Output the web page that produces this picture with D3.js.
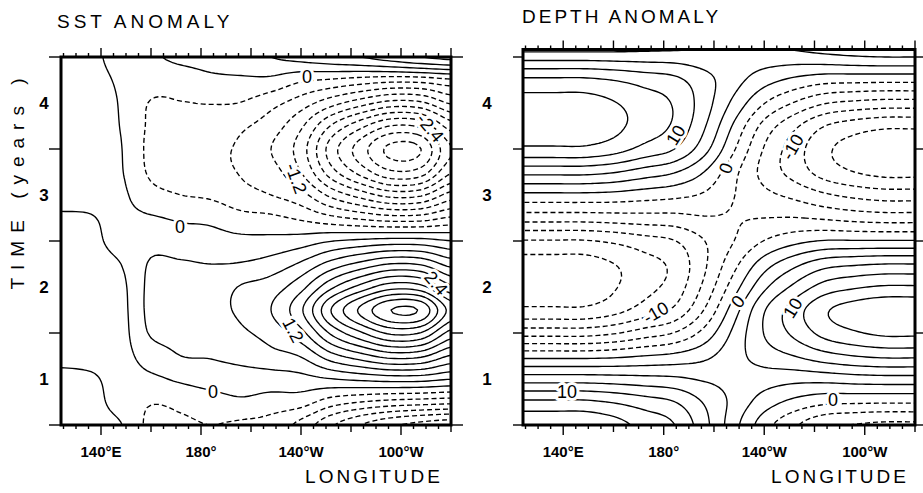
<!DOCTYPE html>
<html><head><meta charset="utf-8">
<script src="https://cdn.jsdelivr.net/npm/d3@7"></script>
<style>
body{margin:0;background:#fff;}
svg{display:block;}
text{font-family:"Liberation Sans",Arial,sans-serif;fill:#000;}
</style></head><body>
<svg id="chart" width="923" height="493"></svg>
<script>
// ---------------- DATA ----------------
const sstLon = [124,136,148,160,172,184,196,208,220,232,244,256,268,280];
const sstTime = [0.5,0.75,1,1.25,1.5,1.75,2,2.25,2.5,2.75,3,3.25,3.5,3.75,4,4.25,4.5];
const sstValues = [
 [0.2,0.12,0.01,-0.38,-0.35,-0.3,-0.35,-0.42,-0.7,-1.15,-1.5,-1.75,-1.9,-2.0],
 [0.15,0.1,-0.12,-0.28,-0.22,-0.12,-0.05,-0.12,-0.17,-0.45,-0.6,-0.7,-0.75,-0.8],
 [0.08,0.04,-0.1,-0.06,0.05,0.12,0.15,0.16,0.2,0.29,0.37,0.43,0.42,0.31],
 [-0.08,-0.09,-0.1,0.15,0.3,0.32,0.4,0.5,0.62,1.08,1.38,1.62,1.56,1.17],
 [-0.12,-0.12,-0.1,0.33,0.35,0.4,0.55,0.72,1.1,1.85,2.36,2.76,2.68,1.99],
 [-0.15,-0.13,-0.09,0.39,0.45,0.52,0.65,0.9,1.45,2.4,3.07,3.6,3.55,2.59],
 [-0.15,-0.13,-0.07,0.38,0.42,0.45,0.62,0.75,1.1,1.73,2.21,2.58,2.5,1.86],
 [-0.12,-0.1,0.0,0.33,0.33,0.3,0.32,0.42,0.65,1.01,1.29,1.51,1.46,1.09],
 [-0.08,-0.06,0.1,0.2,0.14,0.11,0.08,0.09,0.15,0.29,0.37,0.43,0.42,0.31],
 [-0.02,-0.01,0.06,0.03,-0.04,-0.07,-0.2,-0.24,-0.35,-0.52,-0.66,-0.77,-0.75,-0.56],
 [0.05,0.05,0.05,-0.2,-0.3,-0.35,-0.5,-0.6,-0.8,-1.28,-1.63,-1.91,-1.85,-1.38],
 [0.1,0.08,0.02,-0.35,-0.42,-0.5,-0.62,-0.78,-1.2,-1.97,-2.52,-2.95,-2.86,-2.13],
 [0.12,0.09,0.01,-0.38,-0.45,-0.52,-0.65,-0.9,-1.35,-2.24,-2.86,-3.38,-3.3,-2.42],
 [0.14,0.09,-0.01,-0.35,-0.38,-0.42,-0.55,-0.75,-1.15,-1.82,-2.32,-2.71,-2.63,-1.96],
 [0.14,0.08,-0.02,-0.32,-0.31,-0.29,-0.31,-0.5,-0.75,-1.08,-1.37,-1.61,-1.56,-1.16],
 [0.13,0.06,-0.03,-0.15,-0.15,-0.07,-0.05,-0.07,-0.25,-0.33,-0.42,-0.49,-0.47,-0.35],
 [0.12,0.04,-0.05,-0.03,0.06,0.12,0.18,0.3,0.4,0.5,0.6,0.75,0.9,1.0]
];
const sstLevels = [-3.3,-3.0,-2.7,-2.4,-2.1,-1.8,-1.5,-1.2,-0.9,-0.6,-0.3,0,0.3,0.6,0.9,1.2,1.5,1.8,2.1,2.4,2.7,3.0,3.3,3.6];

const depthLon = [124,136,148,160,172,184,196,208,220,232,244,256,268,280];
const depthTime = [0.5,0.75,1,1.25,1.5,1.75,2,2.25,2.5,2.75,3,3.25,3.5,3.75,4,4.25,4.5,4.75];
const depthValues = [
 [17,17,17,16.0,14.2,12.6,8.4,3.4,-1.4,-4.6,-6.9,-7.6,-8,-8],
 [13,13,13,12.3,11.2,10.1,7.3,4.3,1.3,-0.7,-1.9,-2.1,-2.2,-2.2],
 [6.3,6.3,6.3,6.1,5.8,5.5,4.7,4.2,3.7,3.3,3.4,3.8,4,4],
 [-0.8,-0.8,-0.8,-0.55,0.04,0.62,1.83,4.09,6.14,7.5,9.03,10.0,10.5,10.5],
 [-8.5,-8.5,-8.5,-7.77,-6.31,-4.94,-1.69,3.11,7.6,10.57,13.33,14.7,15.5,15.5],
 [-14.5,-14.5,-14.5,-13.44,-11.43,-9.56,-4.96,1.34,7.3,11.23,14.62,16.15,17,17],
 [-16.3,-16.3,-16.3,-15.23,-13.29,-11.5,-6.96,-1.14,4.42,8.08,11.01,12.16,12.8,12.8],
 [-16,-16,-16,-15.05,-13.4,-11.9,-7.95,-3.25,1.3,4.28,6.45,7.13,7.5,7.5],
 [-12.7,-12.7,-12.7,-12.06,-11.04,-10.14,-7.58,-5.0,-2.42,-0.75,0.17,0.19,0.2,0.2],
 [-6.4,-6.4,-6.4,-6.2,-6.0,-5.86,-5.2,-5.16,-5.0,-4.91,-5.33,-5.89,-6.2,-6.2],
 [-0.6,-0.6,-0.6,-0.79,-1.31,-1.82,-2.82,-4.94,-6.84,-8.11,-9.63,-10.64,-11.2,-11.2],
 [5.8,5.8,5.8,5.19,3.94,2.74,0.01,-4.32,-8.32,-10.97,-13.59,-15.01,-15.8,-15.8],
 [12,12,12,11.06,9.26,7.58,3.5,-2.26,-7.68,-11.26,-14.45,-15.96,-16.8,-16.8],
 [14.2,14.2,14.2,13.2,11.34,9.62,5.33,-0.41,-5.86,-9.45,-12.47,-13.78,-14.5,-14.5],
 [13.5,13.5,13.5,12.66,11.15,9.78,6.23,1.83,-2.4,-5.18,-7.31,-8.08,-8.5,-8.5],
 [10.5,10.5,10.5,9.94,9.01,8.18,5.9,3.44,1.02,-0.56,-1.55,-1.71,-1.8,-1.8],
 [4,4,4,3.9,3.83,3.8,3.51,3.7,3.8,3.88,4.3,4.75,5,5],
 [-2,-2,-2,-1.7,-1.04,-0.4,1.0,3.4,5.6,7.06,8.6,9.5,10,10]
];
const depthLevels = [-17.5,-15,-12.5,-10,-7.5,-5,-2.5,0,2.5,5,7.5,10,12.5,15,17.5];

const lonTickValues = [140,180,220,260];
const lonTickLabels = ["140°E","180°","140°W","100°W"];
const timeTickValues = [1,2,3,4];

const sstLabels = [
 {text:"0", lon:222.4, t:4.28, angle:0},
 {text:"-2.4", lon:271.6, t:3.73, angle:50},
 {text:"-1.2", lon:218, t:3.18, angle:70},
 {text:"0", lon:171.6, t:2.65, angle:0},
 {text:"2.4", lon:274, t:2.04, angle:50},
 {text:"1.2", lon:216.8, t:1.53, angle:62},
 {text:"0", lon:184.8, t:0.86, angle:0}
];
const depthLabels = [
 {text:"10", lon:184.9, t:3.65, angle:-58},
 {text:"0", lon:204.8, t:3.29, angle:-70},
 {text:"-10", lon:231.4, t:3.52, angle:-60},
 {text:"-10", lon:176.9, t:1.72, angle:-30},
 {text:"0", lon:209.6, t:1.84, angle:-52},
 {text:"10", lon:231.4, t:1.77, angle:-58},
 {text:"10", lon:141.5, t:0.86, angle:0},
 {text:"0", lon:247.4, t:0.77, angle:0}
];

// ---------------- RENDER ----------------
const svg = d3.select("#chart");
const F = 8;

function upsample(values, f) {
  const ny = values.length, nx = values[0].length;
  const NX = (nx - 1) * f + 1, NY = (ny - 1) * f + 1;
  const out = new Float64Array(NX * NY);
  const get = (j, i) => values[Math.max(0, Math.min(ny - 1, j))][Math.max(0, Math.min(nx - 1, i))];
  const cr = (p0, p1, p2, p3, t) => 0.5 * ((2 * p1) + (-p0 + p2) * t + (2 * p0 - 5 * p1 + 4 * p2 - p3) * t * t + (-p0 + 3 * p1 - 3 * p2 + p3) * t * t * t);
  for (let J = 0; J < NY; J++) {
    const gj = J / f, j = Math.min(Math.floor(gj), ny - 2), ty = gj - j;
    for (let I = 0; I < NX; I++) {
      const gi = I / f, i = Math.min(Math.floor(gi), nx - 2), tx = gi - i;
      const c = [];
      for (let m = -1; m <= 2; m++) c.push(cr(get(j + m, i - 1), get(j + m, i), get(j + m, i + 1), get(j + m, i + 2), tx));
      out[J * NX + I] = cr(c[0], c[1], c[2], c[3], ty);
    }
  }
  return {NX, NY, out};
}

const yScale = d3.scaleLinear().domain([0.5, 4.5]).range([425, 57]);

const panels = [
  {id:"sst", x0:61, x1:451, top:57, lon:sstLon, time:sstTime, values:sstValues, levels:sstLevels, labels:sstLabels,
   title:"SST ANOMALY", titleX:57, titleY:28, titleSpacing:4, yLabelX:44, leftTick:12, rightTick:12, axisX:374},
  {id:"depth", x0:523, x1:915, top:49.5, lon:depthLon, time:depthTime, values:depthValues, levels:depthLevels, labels:depthLabels,
   title:"DEPTH ANOMALY", titleX:522, titleY:23, titleSpacing:3, yLabelX:487, leftTick:10, rightTick:10, axisX:840}
];

panels.forEach(p => {
  const x = d3.scaleLinear().domain([124, 280]).range([p.x0, p.x1]);
  const y = yScale;
  const bottom = 425;
  const g = svg.append("g");

  const clipId = "clip-" + p.id;
  svg.append("clipPath").attr("id", clipId).append("rect")
    .attr("x", p.x0).attr("y", p.top).attr("width", p.x1 - p.x0).attr("height", bottom - p.top);

  const up = upsample(p.values, F);
  const dl = (p.lon[1] - p.lon[0]) / F, dt = (p.time[1] - p.time[0]) / F;
  const lineGen = d3.line()
    .x(d => x(p.lon[0] + (d[0] - 0.5) * dl))
    .y(d => y(p.time[0] + (d[1] - 0.5) * dt));
  const contours = d3.contours().size([up.NX, up.NY]).thresholds(p.levels)(Array.from(up.out));

  const cg = g.append("g").attr("clip-path", `url(#${clipId})`);
  contours.forEach(c => {
    let d = "";
    c.coordinates.forEach(poly => poly.forEach(ring => { d += lineGen(ring) + "Z"; }));
    if (!d) return;
    cg.append("path").attr("d", d)
      .attr("fill", "none").attr("stroke", "#000")
      .attr("stroke-width", 1.35)
      .attr("stroke-linejoin", "round")
      .attr("stroke-dasharray", c.value < -1e-9 ? "5,3" : null);
  });

  // contour labels
  p.labels.forEach(l => {
    cg.append("text")
      .attr("transform", `translate(${x(l.lon)},${y(l.t)}) rotate(${l.angle})`)
      .attr("text-anchor", "middle").attr("dominant-baseline", "central")
      .attr("font-size", 18)
      .attr("stroke", "#fff").attr("stroke-width", 6).attr("paint-order", "stroke")
      .attr("stroke-linejoin", "round")
      .text(l.text);
  });

  // frame
  g.append("rect").attr("x", p.x0).attr("y", p.top).attr("width", p.x1 - p.x0).attr("height", bottom - p.top)
    .attr("fill", "none").attr("stroke", "#000").attr("stroke-width", 3);

  // lon ticks (every 5 degrees)
  const lonTicks = d3.range(125, 281, 5);
  lonTicks.forEach(v => {
    const xv = x(v);
    const major = lonTickValues.includes(v);
    const mid = v % 20 === 0;
    const lb = major ? 10 : (mid ? 7 : 4);
    g.append("line").attr("x1", xv).attr("x2", xv).attr("y1", bottom).attr("y2", bottom + lb)
      .attr("stroke", "#000").attr("stroke-width", 1.4);
    const lt = (major || mid) ? 9 : 4;
    g.append("line").attr("x1", xv).attr("x2", xv).attr("y1", p.top).attr("y2", p.top - lt)
      .attr("stroke", "#000").attr("stroke-width", 1.4);
  });
  lonTickValues.forEach((v, i) => {
    g.append("text").attr("x", x(v)).attr("y", 457).attr("text-anchor", "middle")
      .attr("font-size", 15).attr("font-weight", "bold").text(lonTickLabels[i]);
  });

  // time ticks at half years
  [0.5, 1.5, 2.5, 3.5, 4.5].forEach(v => {
    g.append("line").attr("x1", p.x0 - p.leftTick).attr("x2", p.x0).attr("y1", y(v)).attr("y2", y(v))
      .attr("stroke", "#000").attr("stroke-width", 1.4);
    g.append("line").attr("x1", p.x1).attr("x2", p.x1 + p.rightTick).attr("y1", y(v)).attr("y2", y(v))
      .attr("stroke", "#000").attr("stroke-width", 1.4);
  });
  timeTickValues.forEach(v => {
    g.append("text").attr("x", p.yLabelX).attr("y", y(v)).attr("text-anchor", "middle")
      .attr("dominant-baseline", "central").attr("font-size", 17).attr("font-weight", "bold").text(v);
  });

  // titles
  g.append("text").attr("x", p.titleX).attr("y", p.titleY).attr("font-size", 19)
    .attr("letter-spacing", p.titleSpacing).text(p.title);
  g.append("text").attr("x", p.axisX).attr("y", 483).attr("text-anchor", "middle").attr("font-size", 19)
    .attr("letter-spacing", 3).text("LONGITUDE");
});

svg.append("text").attr("transform", "translate(24,180) rotate(-90)")
  .attr("text-anchor", "middle").attr("font-size", 19).attr("letter-spacing", 8)
  .text("TIME (years )");
</script>
</body></html>
